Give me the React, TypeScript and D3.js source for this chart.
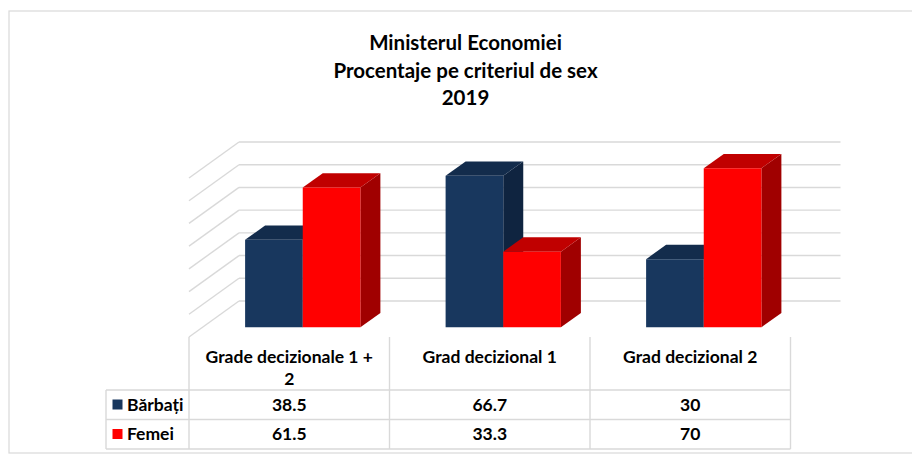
import { useMemo } from 'react'
import * as d3 from 'd3'

const titleLines = ['Ministerul Economiei', 'Procentaje pe criteriul de sex', '2019']
const categories = ['Grade decizionale 1 + 2', 'Grad decizional 1', 'Grad decizional 2']
const categoryLabelLines = [['Grade decizionale 1 +', '2'], ['Grad decizional 1'], ['Grad decizional 2']]
const seriesNames = ['Bărbați', 'Femei']
const barbati = [38.5, 66.7, 30]
const femei = [61.5, 33.3, 70]
const valueLabels = [['38.5', '66.7', '30'], ['61.5', '33.3', '70']]

const SERIES_COLORS = [
  { front: '#18375e', top: '#132c4c', side: '#0f2440' },
  { front: '#ff0000', top: '#c00000', side: '#a00000' },
]

const FONT = 'Lato, "Open Sans", sans-serif'
const GRID = '#d9d9d9'

export default function App() {
  const width = 912
  const height = 454
  // oblique depth vector, from the front of the floor to the back wall
  const depth = { dx: 50, dy: -36 }
  const barZ = [0.27, 0.67]

  const chart = useMemo(() => {
    const x = d3.scaleBand<string>().domain(categories).range([189, 790.5]).padding(0)
    const y = d3.scaleLinear().domain([0, 70]).range([337, 178])
    const groupWidth = x.bandwidth() * 0.575
    const inner = d3.scaleBand<string>().domain(seriesNames).range([0, groupWidth]).padding(0)
    const ticks = y.ticks(7)
    return { x, y, inner, groupWidth, ticks }
  }, [])

  const { x, y, inner, groupWidth, ticks } = chart
  const proj = (px: number, py: number, z: number): [number, number] => [px + z * depth.dx, py + z * depth.dy]
  const pts = (list: [number, number][]) => list.map(p => p.join(',')).join(' ')

  const left = x.range()[0]
  const right = x.range()[1]
  const tableTop = y(0)
  const headerBottom = 390
  const rowBottoms = [419.5, 449]
  const legendLeft = 106
  const rowBaselines = [410.7, 440]

  const series = [barbati, femei]

  return (
    <svg
      width={width}
      height={height}
      viewBox={`0 0 ${width} ${height}`}
      style={{ position: 'absolute', left: 0, top: 0, background: '#fff' }}
      fontFamily={FONT}
    >
      <rect x={9} y={11} width={width + 20} height={442} fill="#fff" stroke={GRID} strokeWidth={1.2} />

      {titleLines.map((line, i) => (
        <text
          key={line}
          x={465.5}
          y={50 + i * 27.5}
          textAnchor="middle"
          fontSize={20.5}
          fontWeight={700}
          fill="#000"
        >
          {line}
        </text>
      ))}

      {/* walls */}
      {ticks.map(v => {
        const front = proj(left, y(v), 0)
        const back = proj(left, y(v), 1)
        const backRight = proj(right, y(v), 1)
        return (
          <g key={`grid-${v}`} stroke={GRID} strokeWidth={1.4} fill="none">
            <line x1={front[0]} y1={front[1]} x2={back[0]} y2={back[1]} />
            <line x1={back[0]} y1={back[1]} x2={backRight[0]} y2={backRight[1]} />
          </g>
        )
      })}

      {/* bars */}
      {categories.map((cat, ci) => {
        const gx = (x(cat) ?? 0) + (x.bandwidth() - groupWidth) / 2
        return (
          <g key={cat}>
            {seriesNames.map((name, si) => {
              const v = series[si][ci]
              const x0 = gx + (inner(name) ?? 0)
              const x1 = x0 + inner.bandwidth()
              const yT = y(v)
              const yB = y(0)
              const c = SERIES_COLORS[si]
              const fTL = proj(x0, yT, barZ[0])
              const fTR = proj(x1, yT, barZ[0])
              const fBR = proj(x1, yB, barZ[0])
              const fBL = proj(x0, yB, barZ[0])
              const bTL = proj(x0, yT, barZ[1])
              const bTR = proj(x1, yT, barZ[1])
              const bBR = proj(x1, yB, barZ[1])
              return (
                <g key={name}>
                  <polygon points={pts([fTR, bTR, bBR, fBR])} fill={c.side} />
                  <polygon points={pts([fTL, bTL, bTR, fTR])} fill={c.top} />
                  <polygon points={pts([fTL, fTR, fBR, fBL])} fill={c.front} />
                </g>
              )
            })}
          </g>
        )
      })}

      {/* data table */}
      <g stroke={GRID} strokeWidth={1.4}>
        {[...categories.map(c => x(c) ?? 0), right].map((px, i) => (
          <line key={`v-${i}`} x1={px} x2={px} y1={tableTop} y2={rowBottoms[1]} />
        ))}
        <line x1={legendLeft} x2={legendLeft} y1={headerBottom} y2={rowBottoms[1]} />
        {[headerBottom, ...rowBottoms].map(py => (
          <line key={`h-${py}`} x1={legendLeft} x2={right} y1={py} y2={py} />
        ))}
      </g>

      {categories.map((cat, ci) => {
        const cx = (x(cat) ?? 0) + x.bandwidth() / 2
        return (
          <g key={`lab-${cat}`} fontSize={17.5} fontWeight={700} fill="#000" textAnchor="middle">
            {categoryLabelLines[ci].map((line, li) => (
              <text key={line} x={cx} y={362.5 + li * 22}>
                {line}
              </text>
            ))}
            {seriesNames.map((name, si) => (
              <text key={name} x={cx} y={rowBaselines[si]}>
                {valueLabels[si][ci]}
              </text>
            ))}
          </g>
        )
      })}

      {seriesNames.map((name, si) => {
        const rowTop = si === 0 ? headerBottom : rowBottoms[0]
        return (
          <g key={`leg-${name}`}>
            <rect x={112.5} y={rowTop + 9.5} width={10} height={10} fill={SERIES_COLORS[si].front} />
            <text x={127} y={rowBaselines[si]} fontSize={17.5} fontWeight={700} fill="#000">
              {name}
            </text>
          </g>
        )
      })}
    </svg>
  )
}
